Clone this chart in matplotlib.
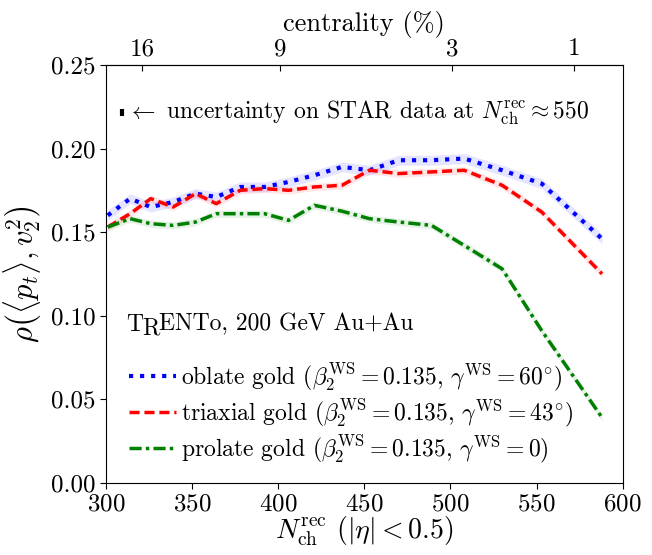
import numpy as np
import matplotlib
matplotlib.use("Agg")
import matplotlib.pyplot as plt

plt.rcParams['mathtext.fontset'] = 'cm'
plt.rcParams['font.family'] = 'serif'
plt.rcParams['font.serif'] = ['cmr10']
plt.rcParams['axes.formatter.use_mathtext'] = True
plt.rcParams['axes.unicode_minus'] = False

# ---- data ----
nch = [301, 314, 326, 339, 352, 364, 378, 392, 406, 421, 437, 453, 470, 489, 508, 530, 553, 588]
oblate = [0.160, 0.170, 0.165, 0.168, 0.173, 0.171, 0.177, 0.177, 0.180, 0.184, 0.189, 0.187,
          0.193, 0.193, 0.194, 0.187, 0.179, 0.146]
triaxial = [0.153, 0.161, 0.170, 0.165, 0.173, 0.167, 0.175, 0.176, 0.175, 0.177, 0.178, 0.187,
            0.185, 0.186, 0.187, 0.178, 0.162, 0.125]
prolate = [0.153, 0.158, 0.155, 0.154, 0.156, 0.161, 0.161, 0.161, 0.157, 0.166, 0.1625, 0.158,
           0.156, 0.154, 0.142, 0.128, 0.091, 0.039]
oblate_err = 0.003
triaxial_err = 0.0022
prolate_err = 0.0022

labels = [r"oblate gold ($\beta_2^{\mathrm{WS}}=0.135$, $\gamma^{\mathrm{WS}}=60^{\circ}$)",
          r"triaxial gold ($\beta_2^{\mathrm{WS}}=0.135$, $\gamma^{\mathrm{WS}}=43^{\circ}$)",
          r"prolate gold ($\beta_2^{\mathrm{WS}}=0.135$, $\gamma^{\mathrm{WS}}=0$)"]

cent_ticks_nch = [321, 401, 501, 572]
cent_labels = ["16", "9", "3", "1"]

star_x = 309.5
star_y = 0.2215
star_err = 0.0022

# ---- figure ----
fig = plt.figure(figsize=(6.52, 5.55), dpi=100)
ax = fig.add_axes([0.1626, 0.1303, 0.955 - 0.1626, 0.8829 - 0.1303])

x = np.array(nch)
series = [
    (np.array(oblate), oblate_err, 'blue', (0, (1, 1.65)), 3.0),
    (np.array(triaxial), triaxial_err, 'red', (0, (2.9, 1.4)), 2.5),
    (np.array(prolate), prolate_err, 'green', (0, (3.5, 1.2, 1.0, 1.2)), 2.5),
]
for (y, e, c, ls, lw), lab in zip(series, labels):
    ax.fill_between(x, y - e, y + e, color=c, alpha=0.1, lw=0)
    ax.plot(x, y, color=c, ls=ls, lw=lw, label=lab)

ax.set_xlim(300, 600)
ax.set_ylim(0.0, 0.25)
ax.set_xticks([300, 350, 400, 450, 500, 550, 600])
ax.set_yticks([0.0, 0.05, 0.10, 0.15, 0.20, 0.25])
ax.set_yticklabels(["0.00", "0.05", "0.10", "0.15", "0.20", "0.25"])
ax.tick_params(labelsize=18, direction='out', length=4)

ax.set_xlabel(r"$N_{\mathrm{ch}}^{\mathrm{rec}}$ $(|\eta|<0.5)$", fontsize=20, labelpad=0)
ax.set_ylabel(r"$\rho\left(\langle p_t\rangle, v_2^2\right)$", fontsize=22, labelpad=6)

sec = ax.secondary_xaxis('top')
sec.set_xticks(cent_ticks_nch)
sec.set_xticklabels(cent_labels)
sec.tick_params(labelsize=18, direction='in', length=4)
sec.set_xlabel("centrality (%)", fontsize=19, labelpad=5)

# uncertainty marker
ax.errorbar([star_x], [star_y], yerr=[star_err], fmt='none', ecolor='black', elinewidth=3, capsize=0)
ax.text(star_x + 2.5, star_y, r"$\leftarrow$ uncertainty on STAR data at $N_{\mathrm{ch}}^{\mathrm{rec}}\approx 550$",
        fontsize=17, va='center', ha='left')

# TRENTo label
t1 = ax.text(0.04, 0.352, "T", transform=ax.transAxes, fontsize=17, va='bottom', ha='left')
t2 = ax.annotate("R", xy=(1, 0), xycoords=t1, xytext=(-1.2, -3), textcoords='offset points',
                 fontsize=17, va='bottom', ha='left')
t3 = ax.annotate("ENTo, 200 GeV Au+Au", xy=(1, 0), xycoords=t2, xytext=(0, 3),
                 textcoords='offset points', fontsize=17, va='bottom', ha='left')

leg = ax.legend(loc='lower left', bbox_to_anchor=(0.012, 0.003), frameon=False, fontsize=17,
                handlelength=2.0, handletextpad=0.2, labelspacing=0.16, borderaxespad=0.3)

fig.savefig("out.png", dpi=100)
